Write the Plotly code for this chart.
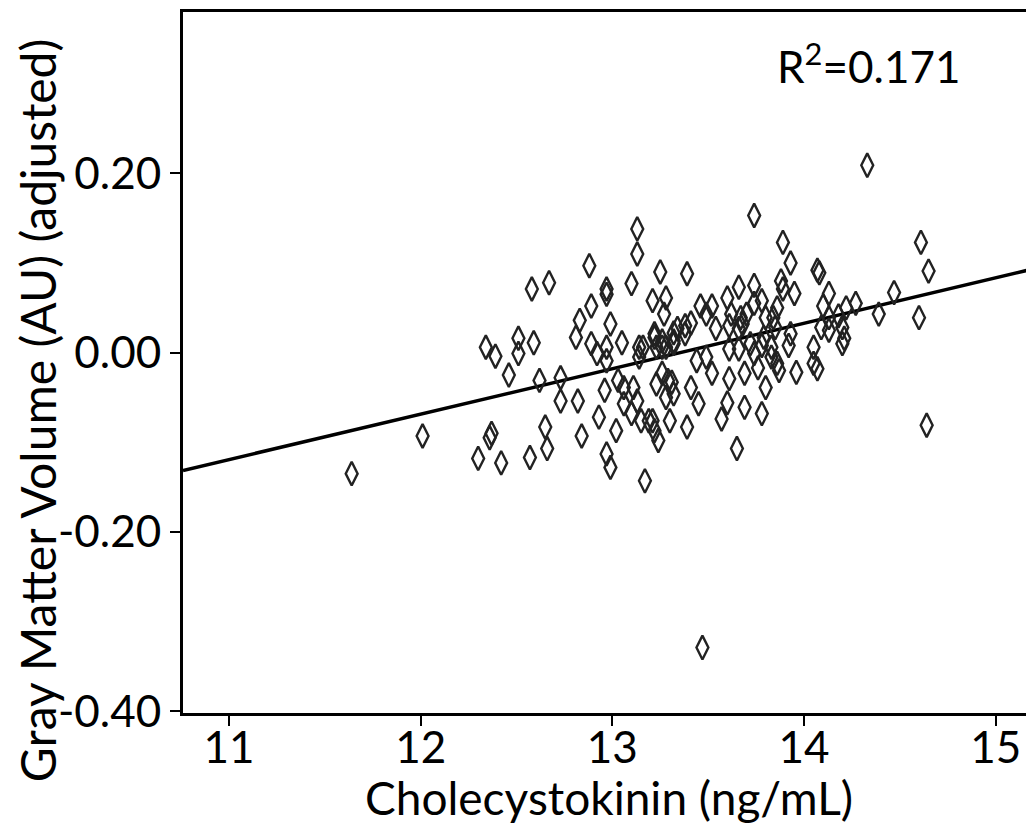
import plotly.graph_objects as go
import numpy as np

# Cholecystokinin (ng/mL)
cck = [11.64, 12.01, 12.30, 12.34, 12.36, 12.37, 12.39, 12.42, 12.46, 12.51,
       12.51, 12.58, 12.57, 12.59, 12.67, 12.62, 12.65, 12.66, 12.73, 12.73,
       12.82, 12.81, 12.83, 12.84, 12.88, 12.89, 12.89, 12.92, 12.93, 12.96,
       12.97, 12.97, 12.97, 12.97, 12.97, 12.99, 12.99, 13.02, 13.03, 13.05,
       13.06, 13.06, 13.10, 13.10, 13.11, 13.13, 13.13, 13.13, 13.14, 13.14,
       13.15, 13.16, 13.17, 13.19, 13.21, 13.21, 13.22, 13.22, 13.22, 13.23,
       13.23, 13.24, 13.25, 13.26, 13.26, 13.26, 13.27, 13.28, 13.28, 13.28,
       13.29, 13.30, 13.32, 13.32, 13.32, 13.32, 13.31, 13.34, 13.38, 13.38,
       13.39, 13.39, 13.41, 13.41, 13.44, 13.45, 13.46, 13.47, 13.49, 13.49,
       13.52, 13.52, 13.54, 13.57, 13.60, 13.60, 13.61, 13.61, 13.61, 13.62,
       13.65, 13.66, 13.66, 13.66, 13.67, 13.68, 13.69, 13.69, 13.70, 13.72,
       13.74, 13.74, 13.74, 13.74, 13.76, 13.78, 13.78, 13.78, 13.79, 13.80,
       13.80, 13.83, 13.83, 13.84, 13.85, 13.86, 13.86, 13.87, 13.88, 13.89,
       13.89, 13.92, 13.93, 13.93, 13.95, 13.96, 14.05, 14.05, 14.07, 14.08,
       14.07, 14.09, 14.10, 14.13, 14.13, 14.13, 14.18, 14.20, 14.20, 14.21,
       14.22, 14.27, 14.33, 14.39, 14.47, 14.60, 14.61, 14.64, 14.65]

# Gray matter volume (AU, adjusted)
gmv = [-0.135, -0.093, -0.118, 0.006, -0.095, -0.090, -0.004, -0.123, -0.025, 0.016,
       -0.001, 0.071, -0.117, 0.011, 0.078, -0.031, -0.083, -0.107, -0.028, -0.054,
       -0.054, 0.017, 0.036, -0.093, 0.097, 0.052, 0.010, -0.001, -0.072, -0.042,
       0.071, 0.065, 0.006, -0.009, -0.113, 0.032, -0.128, -0.087, -0.031, 0.011,
       -0.039, -0.057, 0.077, -0.068, -0.039, 0.138, 0.110, -0.054, 0.006, -0.005,
       -0.076, 0.006, -0.143, -0.076, 0.058, -0.076, 0.017, 0.021, -0.087, 0.006,
       -0.035, -0.098, 0.090, 0.006, 0.013, -0.023, 0.043, 0.061, 0.006, -0.050,
       -0.031, -0.076, 0.010, 0.022, 0.013, -0.046, -0.033, 0.027, 0.030, 0.021,
       0.088, -0.083, 0.033, -0.039, -0.009, -0.057, 0.052, -0.329, 0.043, -0.005,
       0.052, -0.023, 0.027, -0.074, 0.061, -0.056, 0.030, 0.004, -0.029, 0.043,
       -0.107, 0.073, 0.027, 0.004, 0.039, 0.032, -0.023, -0.061, 0.043, 0.010,
       0.153, 0.075, 0.055, -0.001, -0.017, 0.058, 0.008, -0.068, 0.017, 0.039,
       -0.039, 0.006, -0.005, 0.039, 0.028, 0.050, -0.012, -0.020, 0.080, 0.123,
       0.071, 0.008, 0.100, 0.021, 0.066, -0.022, 0.006, -0.012, 0.092, 0.089,
       -0.018, 0.028, 0.052, 0.066, 0.039, 0.025, 0.041, 0.028, 0.010, 0.016,
       0.050, 0.055, 0.209, 0.043, 0.067, 0.039, 0.123, -0.081, 0.091]

# Fit line (slope/intercept) and reported R^2
fit_slope = 0.0507
fit_intercept = -0.677
fit_x = [10.76, 15.2]
r_squared = "0.171"

x_ticks = [11, 12, 13, 14, 15]
y_ticks = [-0.40, -0.20, 0.00, 0.20]
y_ticklabels = ["-0.40", "-0.20", "0.00", "0.20"]
x_title = "Cholecystokinin (ng/mL)"
y_title = "Gray Matter Volume (AU) (adjusted)"

FONT = "Lato"

fit_y = [fit_intercept + fit_slope * v for v in fit_x]

fig = go.Figure()
fig.add_trace(go.Scatter(
    x=fit_x, y=fit_y, mode="lines",
    line=dict(color="black", width=3.5), hoverinfo="skip", showlegend=False))
fig.add_trace(go.Scatter(
    x=cck, y=gmv, mode="markers",
    marker=dict(symbol="diamond-tall-open", size=17, color="#222222",
                line=dict(width=2.4, color="#222222")),
    showlegend=False))

fig.add_annotation(
    x=0.805, y=0.926, xref="paper", yref="paper", xanchor="center", yanchor="middle",
    text="R<sup>2</sup>=" + r_squared, showarrow=False,
    font=dict(family=FONT, size=44, color="black"))

# axis titles
fig.add_annotation(
    x=0.5, y=-0.12, xref="paper", yref="paper", xanchor="center", yanchor="middle",
    text=x_title, showarrow=False, font=dict(family=FONT, size=46, color="black"))
fig.add_annotation(
    x=-0.1716, y=0.432, xref="paper", yref="paper", xanchor="center", yanchor="middle",
    text=y_title, textangle=-90, showarrow=False,
    font=dict(family=FONT, size=48, color="black"))

fig.update_layout(
    width=1034, height=823,
    margin=dict(l=175, r=8, t=4, b=118, autoexpand=False),
    paper_bgcolor="white", plot_bgcolor="white",
    font=dict(family=FONT, color="black"),
    xaxis=dict(
        range=[10.76, 15.2], tickvals=x_ticks, ticks="outside", ticklen=10,
        tickwidth=2, tickcolor="black", showline=True, linewidth=3, linecolor="black",
        mirror=True, showgrid=False, zeroline=False, automargin=False,
        ticklabelstandoff=-16,
        tickfont=dict(family=FONT, size=44)),
    yaxis=dict(
        range=[-0.402, 0.38], tickvals=y_ticks, ticktext=y_ticklabels, ticks="outside",
        ticklen=10, tickwidth=2, tickcolor="black", showline=True, linewidth=3,
        linecolor="black", showgrid=False, zeroline=False, automargin=False,
        tickfont=dict(family=FONT, size=44)),
)

fig.write_html("out.html")
